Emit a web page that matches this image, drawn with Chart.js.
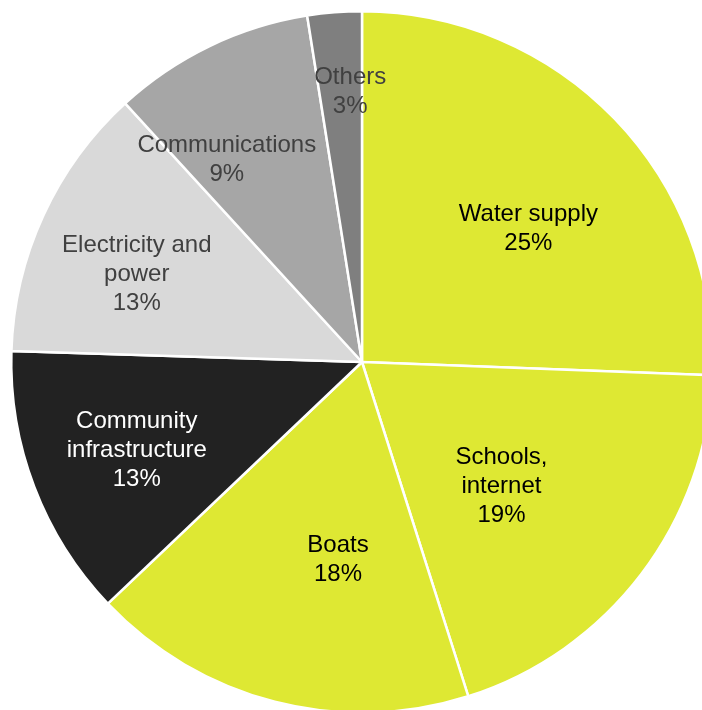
<!DOCTYPE html>
<html lang="en">

<head>
  <meta charset="UTF-8">
  <title>Spending by sector</title>
  <style>
    html, body { margin: 0; padding: 0; background: #fff; overflow: hidden; }
    #pie { display: block; }
  </style>
</head>

<body>
  <canvas id="pie" width="724" height="724" style="width:724px;height:724px"></canvas>

  <script src="https://cdn.jsdelivr.net/npm/chart.js"></script>
  <script>
    // slices, clockwise from 12 o'clock
    const categories = [
      ['Water supply'],
      ['Schools,', 'internet'],
      ['Boats'],
      ['Community', 'infrastructure'],
      ['Electricity and', 'power'],
      ['Communications'],
      ['Others']
    ]
    const shares = [25.6, 19.5, 17.8, 12.6, 12.7, 9.3, 2.5]
    const pctLabels = ['25%', '19%', '18%', '13%', '13%', '9%', '3%']

    const sliceColors = ['#DEE833', '#DEE833', '#DEE833', '#222222', '#D9D9D9', '#A6A6A6', '#7F7F7F']
    const textColors = ['#000000', '#000000', '#000000', '#FFFFFF', '#404040', '#404040', '#404040']
    // label anchor: fraction of radius, angle nudge (deg) from the slice middle
    const labelPlace = [[0.608, 5.2], [0.533, 4.5], [0.569, -7.5], [0.69, -0.6], [0.689, -3.4], [0.694, -8], [0.771, 2]]

    const sliceLabels = {
      id: 'sliceLabels',
      afterDatasetsDraw(chart) {
        const ctx = chart.ctx
        const arcs = chart.getDatasetMeta(0).data
        ctx.save()
        ctx.font = '24px "Liberation Sans", Arial, sans-serif'
        ctx.textAlign = 'center'
        ctx.textBaseline = 'middle'
        const lh = 29
        arcs.forEach((arc, i) => {
          const p = arc.getProps(['x', 'y', 'startAngle', 'endAngle', 'outerRadius'], true)
          const mid = (p.startAngle + p.endAngle) / 2 + labelPlace[i][1] * Math.PI / 180
          const r = p.outerRadius * labelPlace[i][0]
          const cx = p.x + Math.cos(mid) * r
          const cy = p.y + Math.sin(mid) * r
          const lines = categories[i].concat([pctLabels[i]])
          const top = cy - (lines.length - 1) * lh / 2
          ctx.fillStyle = textColors[i]
          lines.forEach((t, j) => ctx.fillText(t, cx, top + j * lh))
        })
        ctx.restore()
      }
    }

    new Chart(document.getElementById('pie'), {
      type: 'pie',
      data: {
        labels: categories.map(c => c.join(' ')),
        datasets: [{
          data: shares,
          backgroundColor: sliceColors,
          borderColor: '#FFFFFF',
          borderWidth: 2.5
        }]
      },
      options: {
        responsive: false,
        animation: false,
        layout: { padding: 10 },
        plugins: {
          legend: { display: false },
          tooltip: { enabled: false }
        }
      },
      plugins: [sliceLabels]
    })
  </script>
</body>

</html>
